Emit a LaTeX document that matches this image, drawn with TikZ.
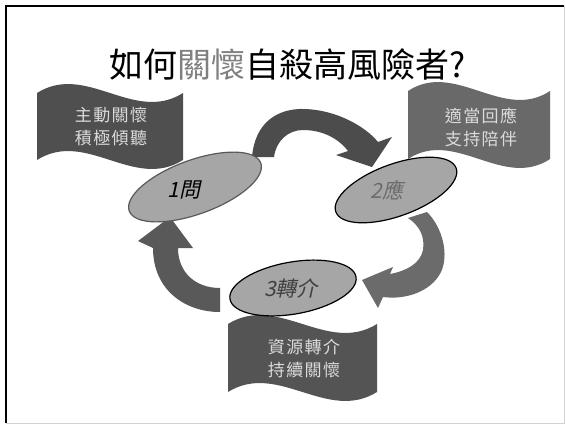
\documentclass[tikz,border=0pt]{standalone}
\usepackage{fontspec}
\usetikzlibrary{shapes.geometric}
\newfontfamily\cjk{Noto Sans CJK TC}
\newfontfamily\cjkwide[LetterSpace=8]{Noto Sans CJK TC}
\newfontfamily\cjkit[FakeSlant=0.22]{Noto Sans CJK TC}
\definecolor{flagA}{gray}{0.31}
\definecolor{flagB}{gray}{0.41}
\definecolor{flagC}{gray}{0.33}
\definecolor{arrA}{gray}{0.30}
\definecolor{arrB}{gray}{0.42}
\definecolor{arrC}{gray}{0.35}
\definecolor{ovalfill}{gray}{0.65}
\definecolor{flagtext}{gray}{0.86}
\definecolor{titlegray}{gray}{0.50}
\begin{document}
\begin{tikzpicture}[x=1pt,y=-1pt,
  ftext/.style={text=flagtext, font=\cjkwide\fontsize{17}{23}\selectfont, align=center, inner sep=0pt},
  oval/.style={ellipse, fill=ovalfill, line width=1.2pt, inner sep=0pt, minimum width=128pt, minimum height=52pt},
  otext/.style={font=\cjkit\fontsize{21}{24}\selectfont, inner sep=0pt}]
\useasboundingbox (0,0) rectangle (565,424);
\fill[white] (0,0) rectangle (565,424);
% frame
\draw[gray!35, line width=1pt] (564,6) -- (564,423) -- (6,423);
\draw[black, line width=2.2pt] (6,423) -- (6,6) -- (564,6);
% title
\node[font=\cjk\fontsize{34}{40}\selectfont, inner sep=0pt] (title) at (288,65) {如何\textcolor{titlegray}{關懷}自殺高風險者?};
% flags
\fill[flagA] (37,93) .. controls (86,62) and (134,124) .. (183,93) -- (183,160) .. controls (134,191) and (86,129) .. (37,160) -- cycle;
\fill[flagB] (408,91) .. controls (455,60) and (503,122) .. (550,91) -- (550,159) .. controls (503,190) and (455,128) .. (408,159) -- cycle;
\fill[flagC] (228,324) .. controls (278,293) and (327,355) .. (377,324) -- (377,392) .. controls (327,423) and (278,361) .. (228,392) -- cycle;
\node[ftext] (f1) at (111,127) {主動關懷\\積極傾聽};
\node[ftext] (f2) at (481,127) {適當回應\\支持陪伴};
\node[ftext] (f3) at (304,359) {資源轉介\\持續關懷};
% arrows
\fill[arrA] (252,157) .. controls (255,122) and (278,108) .. (305,109) .. controls (336,110) and (365,126) .. (378,142) -- (392,137) -- (372,167) -- (336,155) -- (348,151) .. controls (338,138) and (322,130) .. (303,130) .. controls (288,130) and (276,141) .. (274,157) -- cycle;
\fill[arrB] (427,212) .. controls (443,228) and (449,255) .. (441,272) .. controls (431,292) and (405,300) .. (383,297) -- (378,308) -- (362,280) -- (393,267) -- (390,274) .. controls (406,271) and (420,264) .. (423,250) .. controls (425,237) and (420,226) .. (408,218) -- cycle;
\fill[arrC] (220,312) .. controls (185,312) and (153,290) .. (153,248) -- (138,241) -- (170,217) -- (193,248) -- (178,248) .. controls (178,272) and (195,288) .. (220,288) -- cycle;
% ovals
\node[oval, draw=gray!70!black, minimum width=140pt, minimum height=54pt, rotate=20] (q1) at (195,187) {};
\node[oval, draw=black, rotate=20] (q2) at (396,190) {};
\node[oval, draw=black, rotate=10] (q3) at (293,288) {};
\node[otext, text=black] (t1) at (184,190) {1問};
\node[otext, text=gray!85!black] (t2) at (387,190) {2應};
\node[otext, text=black!75] (t3) at (291,288) {3轉介};
\end{tikzpicture}
\end{document}
